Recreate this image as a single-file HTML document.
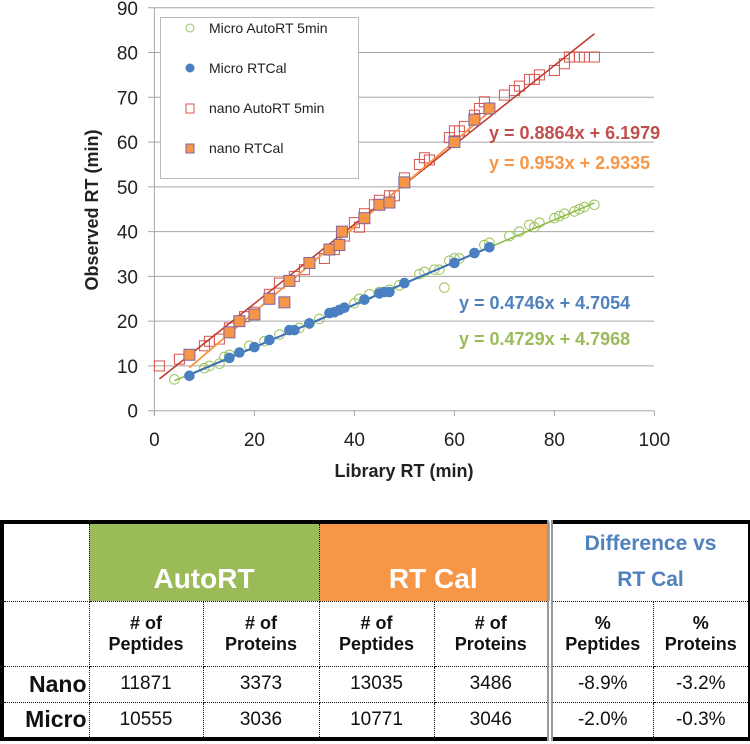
<!DOCTYPE html>
<html><head><meta charset="utf-8"><style>
body{margin:0;background:#fff;width:750px;height:744px;overflow:hidden;font-family:"Liberation Sans",sans-serif}
svg{position:absolute;left:0;top:0}
table{position:absolute;left:0;top:520px;width:748px;height:217px;border-collapse:collapse;border:4px solid #000;font-family:"Liberation Sans Narrow","Liberation Sans",sans-serif;font-weight:bold;table-layout:fixed}
td{border:1px dotted #111;text-align:center;padding:0;font-size:18px;color:#111}
.g{background:#9bbb59;color:#fff;font-size:28px;vertical-align:bottom;padding-bottom:6px}
.o{background:#f79646;color:#fff;font-size:28px;vertical-align:bottom;padding-bottom:6px}
.d{color:#4f81bd;font-size:21px;line-height:36px}
.sep{border-left:6px double #999}
.rh{text-align:right;font-size:23px;padding-right:2px}
.n{font-weight:normal;font-size:19px}
</style></head><body>
<svg width="750" height="510" id="s" font-family="Liberation Sans,sans-serif"></svg>
<table>
<colgroup><col style="width:87px"><col style="width:114px"><col style="width:116px"><col style="width:115px"><col style="width:116px"><col style="width:103px"><col style="width:97px"></colgroup>
<tr style="height:79px"><td style="border-top:none;border-left:none"></td><td class="g" colspan="2">AutoRT</td><td class="o" colspan="2">RT Cal</td><td class="d sep" colspan="2">Difference vs<br>RT Cal</td></tr>
<tr style="height:65px"><td></td><td>#&nbsp;of<br>Peptides</td><td># of<br>Proteins</td><td># of<br>Peptides</td><td># of<br>Proteins</td><td class="sep">%<br>Peptides</td><td>%<br>Proteins</td></tr>
<tr style="height:36px"><td class="rh">Nano</td><td class="n">11871</td><td class="n">3373</td><td class="n">13035</td><td class="n">3486</td><td class="n sep">-8.9%</td><td class="n">-3.2%</td></tr>
<tr style="height:37px"><td class="rh">Micro</td><td class="n">10555</td><td class="n">3036</td><td class="n">10771</td><td class="n">3046</td><td class="n sep">-2.0%</td><td class="n">-0.3%</td></tr>
</table>
<script>
var s=document.getElementById('s'),h='';
function X(x){return 154.4+5*x}function Y(y){return 410.7-4.477*y}
for(var i=0;i<=9;i++){var y=Y(i*10);h+='<line x1="148" x2="654" y1="'+y+'" y2="'+y+'" stroke="#a6a6a6" stroke-width="1"/>';h+='<text x="138" y="'+(y+7)+'" text-anchor="end" font-size="19" fill="#222">'+(i*10)+'</text>';}
h+='<line x1="154.4" x2="154.4" y1="7" y2="416" stroke="#a6a6a6"/>';
for(var i=0;i<=5;i++){var x=X(i*20);h+='<line x1="'+x+'" x2="'+x+'" y1="410.7" y2="416" stroke="#a6a6a6"/>';h+='<text x="'+x+'" y="446" text-anchor="middle" font-size="19" fill="#222">'+(i*20)+'</text>';}
h+='<text x="404" y="477" text-anchor="middle" font-size="18" font-weight="bold" fill="#222">Library RT (min)</text>';
h+='<text transform="translate(98,210) rotate(-90)" text-anchor="middle" font-size="18" font-weight="bold" fill="#222">Observed RT (min)</text>';
var na=[[1,10],[5,11.5],[10,14.5],[11,15.5],[13,16],[15,18.5],[18,21],[20,22],[23,26],[25,28.5],[28,30],[30,31.5],[34,34],[36,36],[38,39],[40,42],[41,41],[42,44],[44,46],[45,47],[47,48],[48,48],[50,52],[53,55],[54,56.5],[55,56],[59,61],[60,62.5],[61,62.5],[62,63.5],[64,66],[65,67.5],[66,69],[70,70.5],[72,71.5],[73,72.5],[75,74],[76,74],[77,75],[80,76],[82,77.5],[83,79],[84,79],[85,79],[86,79],[88,79]];
na.forEach(function(p){h+='<rect x="'+(X(p[0])-5)+'" y="'+(Y(p[1])-5)+'" width="10" height="10" fill="none" stroke="#d9534f" stroke-width="1"/>'});
var ma=[[4,7],[10,9.5],[11,10],[13,10.5],[14,12],[15,12.5],[19,14.5],[22,15.5],[25,17],[29,18.5],[31,19.5],[33,20.5],[36,22],[40,24],[41,25],[43,26],[45,26.5],[47,27],[49,28],[53,30.5],[54,31],[56,31.5],[57,31.5],[58,27.5],[59,33.5],[60,34],[61,34],[66,37],[67,37.5],[71,39],[73,40],[75,41.5],[76,41],[77,42],[80,43],[81,43.5],[82,44],[84,44.5],[85,45],[86,45.5],[88,46]];
ma.forEach(function(p){h+='<circle cx="'+X(p[0])+'" cy="'+Y(p[1])+'" r="4.8" fill="none" stroke="#9bc35a" stroke-width="1"/>'});
h+='<line x1="'+X(1)+'" y1="'+Y(7.08)+'" x2="'+X(88)+'" y2="'+Y(84.2)+'" stroke="#c0392b" stroke-width="1.5"/>';
h+='<line x1="'+X(7)+'" y1="'+Y(9.6)+'" x2="'+X(67)+'" y2="'+Y(66.8)+'" stroke="#f79646" stroke-width="1.8"/>';
h+='<line x1="'+X(4)+'" y1="'+Y(6.7)+'" x2="'+X(88)+'" y2="'+Y(46.4)+'" stroke="#8cb847" stroke-width="1.5"/>';
h+='<line x1="'+X(7)+'" y1="'+Y(8.0)+'" x2="'+X(67)+'" y2="'+Y(36.5)+'" stroke="#3a70b5" stroke-width="2"/>';
var mr=[[7,7.8],[15,11.8],[17,13],[20,14.2],[23,15.8],[27,18],[28,18],[31,19.5],[35,21.8],[36,22],[37,22.5],[38,23],[42,24.8],[45,26.2],[46,26.5],[47,26.5],[50,28.5],[60,33],[64,35.2],[67,36.5]];
mr.forEach(function(p){h+='<circle cx="'+X(p[0])+'" cy="'+Y(p[1])+'" r="5.3" fill="#4a7fc1"/>'});
var nr=[[7,12.5],[15,17.5],[17,20],[20,21.5],[23,25],[26,24.2],[27,29],[31,33],[35,36],[37,37],[37.5,40],[42,43],[45,46],[47,46.5],[50,51],[60,60],[64,65],[67,67.5]];
nr.forEach(function(p){h+='<rect x="'+(X(p[0])-5.5)+'" y="'+(Y(p[1])-5.5)+'" width="11" height="11" fill="#f79646" stroke="#8064a2" stroke-width="1"/>'});
h+='<rect x="160.5" y="17.5" width="198" height="161" fill="#fff" stroke="#bbb"/>';
h+='<circle cx="190" cy="28" r="4" fill="none" stroke="#9bc35a"/><text x="209" y="33" font-size="14" fill="#222">Micro AutoRT 5min</text>';
h+='<circle cx="190" cy="68" r="4.5" fill="#4a7fc1"/><text x="209" y="73" font-size="14" fill="#222">Micro RTCal</text>';
h+='<rect x="186" y="104" width="8" height="9" fill="none" stroke="#d9534f"/><text x="209" y="113" font-size="14" fill="#222">nano AutoRT 5min</text>';
h+='<rect x="186" y="144" width="8" height="9" fill="#f79646" stroke="#8064a2"/><text x="209" y="153" font-size="14" fill="#222">nano RTCal</text>';
h+='<g font-size="18" font-weight="bold"><text x="489" y="139" fill="#c0504d">y = 0.8864x + 6.1979</text><text x="489" y="169" fill="#f79646">y = 0.953x + 2.9335</text><text x="459" y="309" fill="#4f81bd">y = 0.4746x + 4.7054</text><text x="459" y="345" fill="#9bbb59">y = 0.4729x + 4.7968</text></g>';
s.innerHTML=h;
</script>
</body></html>
